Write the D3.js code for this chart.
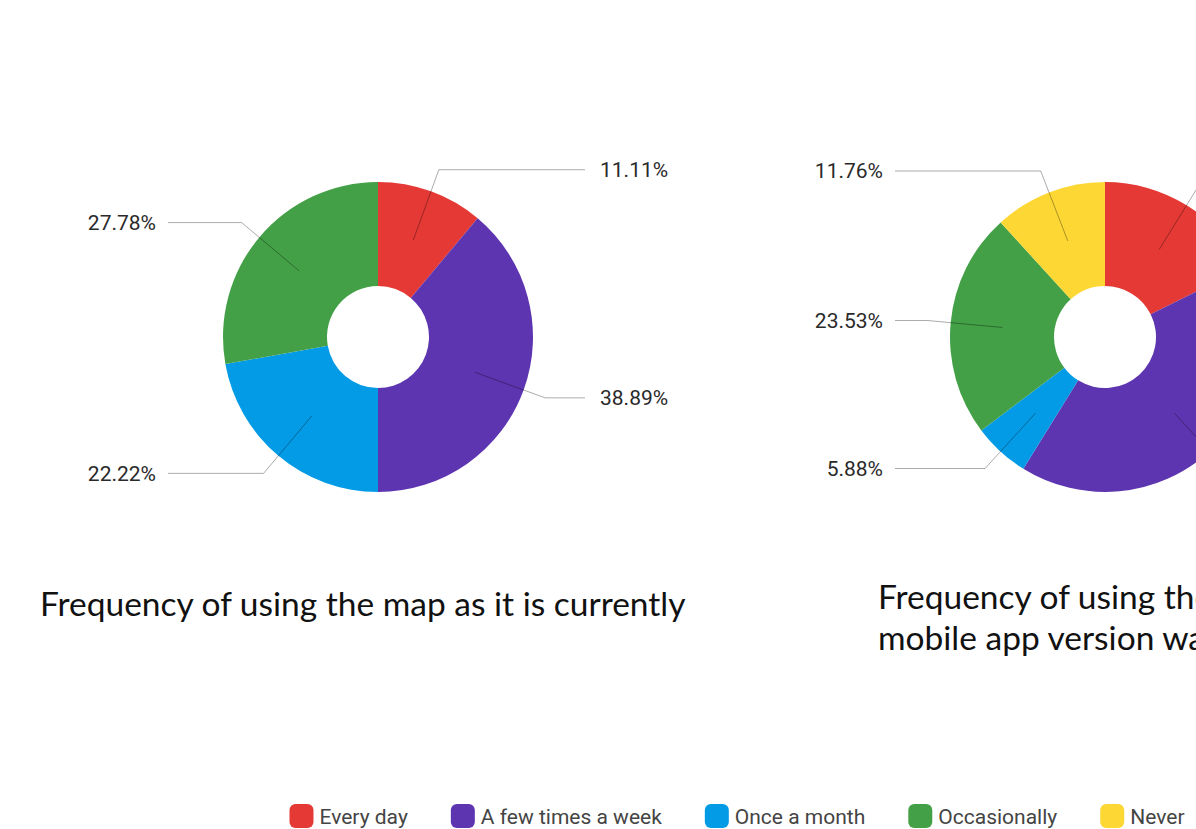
<!DOCTYPE html>
<html lang="en">
  <head>
    <meta charset="UTF-8" />
    <title>Frequency of use</title>
    <script src="https://d3js.org/d3.v7.min.js"></script>
    <style>
      body { margin: 0; background: #fff; overflow: hidden; }
      .pct { font-family: Roboto, sans-serif; font-size: 21px; fill: #2a2a2a; }
      .title { font-family: Lato, sans-serif; font-size: 33.5px; fill: #111; }
      .legend text { font-family: Roboto, sans-serif; font-size: 21px; fill: #444; }
    </style>
  </head>
  <body>
    <div class="chart"></div>
    <script>
      // categories + colours shared by both donuts
      const categories = ["Every day", "A few times a week", "Once a month", "Occasionally", "Never"];
      const colors = ["#E53935", "#5E35B1", "#039BE5", "#43A047", "#FDD835"];

      // percentages
      const currentValues = [11.11, 38.89, 22.22, 27.78, 0];
      const mobileValues = [17.65, 41.18, 5.88, 23.53, 11.76];

      const currentTitle = ["Frequency of using the map as it is currently"];
      const mobileTitle = ["Frequency of using the map if a", "mobile app version was available"];

      let width = 1196,
          height = 829;
      let svg = d3.select(".chart").append("svg")
          .attr("width", width)
          .attr("height", height);

      const color = d3.scaleOrdinal(categories, colors);
      const fmt = d3.format(".2f");
      const outerR = 155, innerR = 51;

      const pie = d3.pie().sort(null).value(d => d.value);
      const arc = d3.arc().innerRadius(innerR).outerRadius(outerR);

      function donut(values, cx, cy, title, titleX, titleY) {
        let g = svg.append("g").attr("transform", `translate(${cx},${cy})`);
        let data = categories.map((c, i) => ({ cat: c, value: values[i] }));
        let arcs = pie(data).filter(d => d.data.value > 0);

        g.selectAll("path")
          .data(arcs)
          .enter()
          .append("path")
          .attr("fill", d => color(d.data.cat))
          .attr("d", arc);

        // leader lines: mid-ring -> elbow -> horizontal
        const pt = (a, r) => [r * Math.sin(a), -r * Math.cos(a)];
        arcs.forEach(d => {
          let a = (d.startAngle + d.endAngle) / 2;
          let p0 = pt(a, (innerR + outerR) / 2);
          let p1 = pt(a, 178);
          let right = Math.sin(a) >= 0;
          let xEnd = right ? 207 : -210;
          g.append("polyline")
            .attr("points", [p0, p1, [xEnd, p1[1]]].map(p => p.join(",")).join(" "))
            .attr("fill", "none")
            .attr("stroke", "rgba(0,0,0,0.33)")
            .attr("stroke-width", 1);
          g.append("text")
            .attr("class", "pct")
            .attr("x", right ? 222 : -222)
            .attr("y", p1[1])
            .attr("dy", "0.35em")
            .attr("text-anchor", right ? "start" : "end")
            .text(fmt(d.data.value) + "%");
        });

        svg.append("g")
          .selectAll("text")
          .data(title)
          .enter()
          .append("text")
          .attr("class", "title")
          .attr("x", titleX)
          .attr("y", (d, i) => titleY + i * 41)
          .text(d => d);
      }

      donut(currentValues, 378, 337, currentTitle, 40, 616);
      donut(mobileValues, 1105, 337, mobileTitle, 878, 609);

      // legend, centred between the two charts
      let legend = svg.append("g").attr("class", "legend");
      let x = 0;
      categories.forEach(c => {
        let item = legend.append("g").attr("transform", `translate(${x},0)`);
        item.append("rect")
          .attr("x", 0).attr("y", -12)
          .attr("width", 24).attr("height", 24)
          .attr("rx", 6)
          .attr("fill", color(c));
        let t = item.append("text")
          .attr("x", 30).attr("y", 1)
          .attr("dy", "0.35em")
          .text(c);
        x += 30 + t.node().getComputedTextLength() + 43;
      });
      let total = x - 43;
      legend.attr("transform", `translate(${737 - total / 2},816)`);
    </script>
  </body>
</html>
